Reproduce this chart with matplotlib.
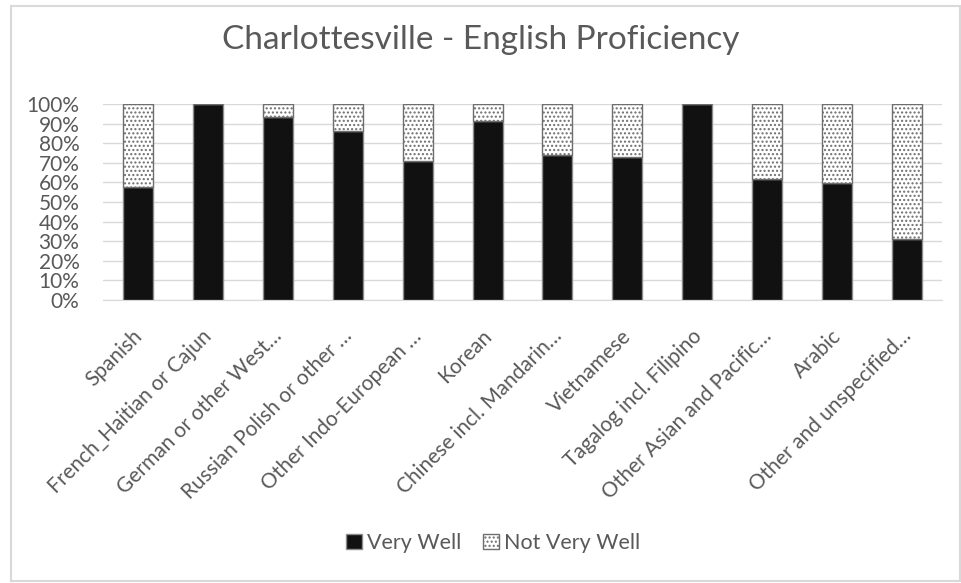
import numpy as np
import matplotlib.pyplot as plt
import matplotlib.patches as mpatches
import matplotlib.transforms as mtransforms

categories = ["Spanish", "French_Haitian or Cajun", "German or other West\u2026",
              "Russian Polish or other \u2026", "Other Indo-European \u2026", "Korean",
              "Chinese incl. Mandarin\u2026", "Vietnamese", "Tagalog incl. Filipino",
              "Other Asian and Pacific\u2026", "Arabic", "Other and unspecified\u2026"]
very_well = [57.7, 100, 93.4, 86.2, 70.9, 91.2, 74.0, 73.0, 100, 61.7, 59.5, 31.1]
not_very_well = [42.3, 0, 6.6, 13.8, 29.1, 8.8, 26.0, 27.0, 0, 38.3, 40.5, 68.9]

plt.rcParams['font.family'] = ['Lato', 'DejaVu Sans']
plt.rcParams['hatch.linewidth'] = 1.0
txt = '#595959'

fig = plt.figure(figsize=(9.61, 5.83), dpi=100)
ax = fig.add_axes([103/961, 1-300/583, 839/961, 196/583])

x = np.arange(len(categories))
ax.bar(x, very_well, width=0.43, color='#111111', edgecolor='#8c8c8c', linewidth=1, zorder=3)
ax.bar(x, not_very_well, width=0.43, bottom=very_well, color='white',
       edgecolor='#6e6e6e', hatch='....', linewidth=1, zorder=3)

ax.set_xlim(-0.5, len(categories) - 0.5)
ax.set_ylim(0, 100)
ax.set_yticks(np.arange(0, 101, 10))
ax.set_yticklabels([f"{v}%" for v in range(0, 101, 10)], fontsize=15, color=txt)
ax.grid(axis='y', color='#d9d9d9', linewidth=1, zorder=0)
for s in ['top', 'right', 'left']:
    ax.spines[s].set_visible(False)
ax.spines['bottom'].set_color('#d9d9d9')
ax.tick_params(axis='both', length=0)
ax.tick_params(axis='y', pad=17)
ax.tick_params(axis='x', pad=0)

ax.set_xticks(x)
ax.set_xticklabels(categories, rotation=45, ha='right', va='center',
                   rotation_mode='anchor', fontsize=15, color=txt)
offset = mtransforms.ScaledTranslation(1/100, -33/100, fig.dpi_scale_trans)
for lab in ax.get_xticklabels():
    lab.set_transform(lab.get_transform() + offset)

fig.text(0.5, 1-40/583, "Charlottesville - English Proficiency", ha='center', va='center',
         fontsize=24, color=txt)

handles = [mpatches.Patch(facecolor='#111111', edgecolor='#8c8c8c', label='Very Well'),
           mpatches.Patch(facecolor='white', edgecolor='#6e6e6e', hatch='....', label='Not Very Well')]
fig.legend(handles=handles, loc='center', bbox_to_anchor=(0.513, 1-543/583), ncol=2,
           frameon=False, fontsize=15.5, labelcolor=txt, handlelength=0.75, handleheight=0.75,
           handletextpad=0.25, columnspacing=1.0)

fig.add_artist(mpatches.Rectangle((11/961, 1-581/583), 949/961, 575/583, transform=fig.transFigure,
                                  fill=False, edgecolor='#d9d9d9', linewidth=1.5))

fig.savefig('out.png', dpi=100)
